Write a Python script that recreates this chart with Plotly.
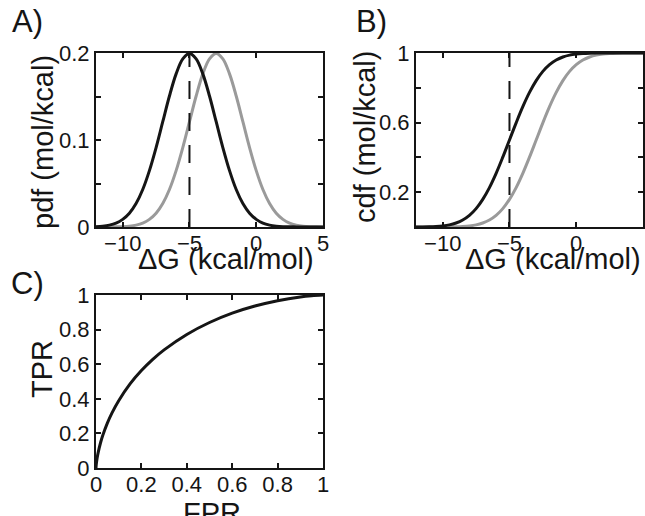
import plotly.graph_objects as go

# free energy grid (kcal/mol)
dg = [-12, -11.5, -11, -10.5, -10, -9.5, -9, -8.5, -8, -7.5, -7, -6.5, -6, -5.5, -5,
      -4.5, -4, -3.5, -3, -2.5, -2, -1.5, -1, -0.5, 0, 0.5, 1, 1.5, 2, 2.5, 3, 3.5,
      4, 4.5, 5]

# A) probability densities
pdf_black = [0.0004, 0.0010, 0.0022, 0.0045, 0.0088, 0.0159, 0.0270, 0.0431, 0.0648,
             0.0913, 0.1210, 0.1506, 0.1760, 0.1933, 0.1995, 0.1933, 0.1760, 0.1506,
             0.1210, 0.0913, 0.0648, 0.0431, 0.0270, 0.0159, 0.0088, 0.0045, 0.0022,
             0.0010, 0.0004, 0.0002, 0.0001, 0.0, 0.0, 0.0, 0.0]
pdf_gray = [0.0, 0.0, 0.0001, 0.0002, 0.0004, 0.0010, 0.0022, 0.0045, 0.0088, 0.0159,
            0.0270, 0.0431, 0.0648, 0.0913, 0.1210, 0.1506, 0.1760, 0.1933, 0.1995,
            0.1933, 0.1760, 0.1506, 0.1210, 0.0913, 0.0648, 0.0431, 0.0270, 0.0159,
            0.0088, 0.0045, 0.0022, 0.0010, 0.0004, 0.0002, 0.0001]

# B) cumulative distributions
cdf_black = [0.0002, 0.0006, 0.0013, 0.0030, 0.0062, 0.0122, 0.0228, 0.0401, 0.0668,
             0.1056, 0.1587, 0.2266, 0.3085, 0.4013, 0.5, 0.5987, 0.6915, 0.7734,
             0.8413, 0.8944, 0.9332, 0.9599, 0.9772, 0.9878, 0.9938, 0.9970, 0.9987,
             0.9994, 0.9998, 0.9999, 1.0, 1.0, 1.0, 1.0, 1.0]
cdf_gray = [0.0, 0.0, 0.0, 0.0001, 0.0002, 0.0006, 0.0013, 0.0030, 0.0062, 0.0122,
            0.0228, 0.0401, 0.0668, 0.1056, 0.1587, 0.2266, 0.3085, 0.4013, 0.5,
            0.5987, 0.6915, 0.7734, 0.8413, 0.8944, 0.9332, 0.9599, 0.9772, 0.9878,
            0.9938, 0.9970, 0.9987, 0.9994, 0.9998, 0.9999, 1.0]

threshold = -5

# C) ROC curve
fpr = [0, 0.001, 0.005, 0.01, 0.02, 0.03, 0.05, 0.07, 0.1, 0.15, 0.2, 0.25, 0.3, 0.4,
       0.5, 0.6, 0.7, 0.8, 0.9, 0.95, 1]
tpr = [0, 0.018, 0.058, 0.092, 0.146, 0.189, 0.259, 0.317, 0.389, 0.486, 0.563, 0.628,
       0.683, 0.772, 0.841, 0.895, 0.936, 0.967, 0.989, 0.996, 1]

W, H = 645, 516
FONT = "Liberation Sans, Arial, sans-serif"
INK = "#151515"
GRAY = "#9a9a9a"


def px(x):
    return x / W


def py(y):
    return 1 - y / H


fig = go.Figure()

fig.add_trace(go.Scatter(x=dg, y=pdf_gray, mode="lines", line=dict(color=GRAY, width=3, shape="spline"),
                         xaxis="x", yaxis="y"))
fig.add_trace(go.Scatter(x=dg, y=pdf_black, mode="lines", line=dict(color=INK, width=3, shape="spline"),
                         xaxis="x", yaxis="y"))
fig.add_trace(go.Scatter(x=[threshold, threshold], y=[0, 0.2], mode="lines",
                         line=dict(color=INK, width=2, dash="18px,14px"), xaxis="x", yaxis="y"))

fig.add_trace(go.Scatter(x=dg, y=cdf_gray, mode="lines", line=dict(color=GRAY, width=3, shape="spline"),
                         xaxis="x2", yaxis="y2"))
fig.add_trace(go.Scatter(x=dg, y=cdf_black, mode="lines", line=dict(color=INK, width=3, shape="spline"),
                         xaxis="x2", yaxis="y2"))
fig.add_trace(go.Scatter(x=[threshold, threshold], y=[0, 1], mode="lines",
                         line=dict(color=INK, width=2, dash="18px,14px"), xaxis="x2", yaxis="y2"))

fig.add_trace(go.Scatter(x=fpr, y=tpr, mode="lines", line=dict(color=INK, width=3, shape="spline"),
                         xaxis="x3", yaxis="y3"))

axis_style = dict(showline=True, linecolor=INK, linewidth=2, mirror="ticks", ticks="inside",
                  ticklen=5, tickwidth=1.5, tickcolor=INK, showgrid=False, zeroline=False,
                  automargin=False, tickfont=dict(family=FONT, size=22, color=INK))
x_style = dict(axis_style, ticklabelstandoff=-4)

dom_top = [py(227), py(53)]
fig.update_layout(
    width=W, height=H, showlegend=False,
    paper_bgcolor="white", plot_bgcolor="white",
    margin=dict(l=0, r=0, t=0, b=0, autoexpand=False),
    font=dict(family=FONT, color=INK),
    xaxis=dict(domain=[px(96), px(323)], range=[-12, 5], tickvals=[-10, -5, 0, 5],
               anchor="y", **x_style),
    yaxis=dict(domain=dom_top, range=[0, 0.2], tickvals=[0, 0.05, 0.1, 0.15, 0.2],
               ticktext=["0", "", "0.1", "", "0.2"], anchor="x", **axis_style),
    xaxis2=dict(domain=[px(416), px(643)], range=[-12, 5], tickvals=[-10, -5, 0, 5],
                anchor="y2", **x_style),
    yaxis2=dict(domain=dom_top, range=[0, 1], tickvals=[0, 0.2, 0.4, 0.6, 0.8, 1],
                ticktext=["", "0.2", "", "0.6", "", "1"], anchor="x2", **axis_style),
    xaxis3=dict(domain=[px(96), px(323)], range=[0, 1], tickvals=[0, 0.2, 0.4, 0.6, 0.8, 1],
                ticktext=["0", "0.2", "0.4", "0.6", "0.8", "1"], anchor="y3", **x_style),
    yaxis3=dict(domain=[py(468), py(295)], range=[0, 1], tickvals=[0, 0.2, 0.4, 0.6, 0.8, 1],
                ticktext=["0", "0.2", "0.4", "0.6", "0.8", "1"], anchor="x3", **axis_style),
)


def label(text, x, y, size, angle=0):
    fig.add_annotation(text=text, x=px(x), y=py(y), xref="paper", yref="paper",
                       showarrow=False, textangle=angle, xanchor="center", yanchor="middle",
                       font=dict(family=FONT, size=size, color=INK))


label("A)", 27, 22, 31)
label("B)", 371, 22, 31)
label("C)", 27, 283, 31)
label("ΔG (kcal/mol)", 226, 259, 29)
label("ΔG (kcal/mol)", 553, 259, 29)
label("pdf (mol/kcal)", 43, 142, 29, -90)
label("cdf (mol/kcal)", 365, 137, 29, -90)
label("TPR", 42, 369, 29, -90)
label("FPR", 212, 513, 29)

# page margin off so the figure sits at the window's corner
fig.write_html("out.html", config={"displayModeBar": False},
               post_script="document.body.style.margin='0';document.body.style.overflow='hidden';")
